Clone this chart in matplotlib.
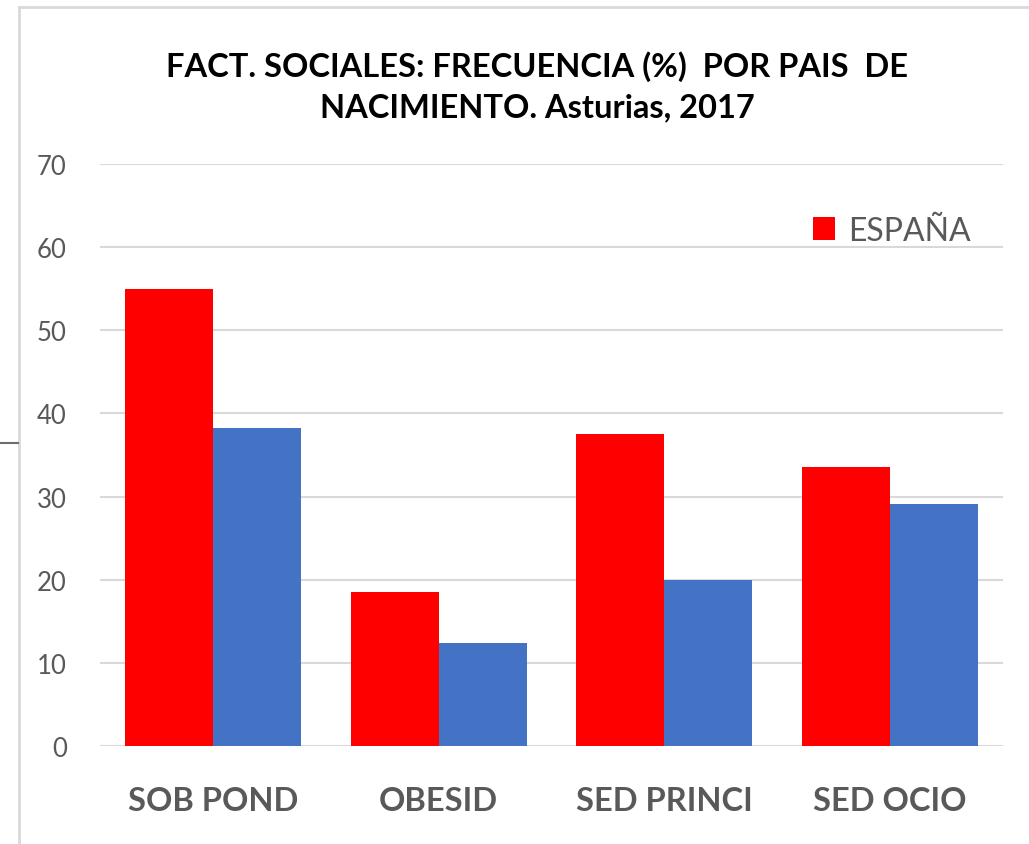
import matplotlib
matplotlib.use("Agg")
import matplotlib.pyplot as plt
import numpy as np
from matplotlib.lines import Line2D

# ── Data ──────────────────────────────────────────────────────────────────────

CATEGORIES = ["SOB POND", "OBESID", "SED PRINCI", "SED OCIO"]
ESPANA     = [55.0, 18.5, 37.5, 33.6]
EXTRANJ    = [38.3, 12.4, 20.0, 29.1]
Y_TICKS    = [0, 10, 20, 30, 40, 50, 60, 70]

TITLE = "FACT. SOCIALES: FRECUENCIA (%)  POR PAIS  DE\nNACIMIENTO. Asturias, 2017"

# ── Style ─────────────────────────────────────────────────────────────────────

RED   = "#ff0000"
BLUE  = "#4472c4"
GRID  = "#d9d9d9"
GRAY  = "#595959"
FONT  = ["Lato", "DejaVu Sans"]

plt.rcParams["font.family"] = FONT

fig = plt.figure(figsize=(10.29, 8.45), dpi=100)
ax = fig.add_axes([100 / 1029, 1 - 747 / 845, 903 / 1029, (747 - 165) / 845])

x = np.arange(len(CATEGORIES))
w = 0.39
ax.bar(x - w / 2, ESPANA, w, color=RED, label="ESPAÑA", zorder=3)
ax.bar(x + w / 2, EXTRANJ, w, color=BLUE, zorder=3)

ax.set_xlim(-0.5, len(CATEGORIES) - 0.5)
ax.set_ylim(0, 70)
ax.set_yticks(Y_TICKS)
ax.set_xticks(x)
ax.set_xticklabels(CATEGORIES, fontsize=23.5, fontweight="bold", color=GRAY)
ax.tick_params(axis="y", length=0, pad=24, labelsize=18.5, labelcolor=GRAY)
ax.tick_params(axis="x", length=0, pad=29)
ax.grid(axis="y", color=GRID, lw=1.5, zorder=0)
for s in ax.spines.values():
    s.set_visible(False)

leg = ax.legend(loc="upper right", bbox_to_anchor=(0.978, 0.933), frameon=False,
                fontsize=23, handlelength=0.7, handleheight=0.7,
                handletextpad=0.4, borderaxespad=0)
for t in leg.get_texts():
    t.set_color(GRAY)

fig.text(537 / 1029, 1 - 87 / 845, TITLE, ha="center", va="center",
         fontsize=23.5, fontweight="bold", color="black", linespacing=1.45)

# chart frame
fig.add_artist(Line2D([19 / 1029, 19 / 1029], [0, 1 - 8 / 845], color=GRID, lw=2))
fig.add_artist(Line2D([19 / 1029, 1], [1 - 8 / 845, 1 - 8 / 845], color=GRID, lw=2))
fig.add_artist(Line2D([0, 18 / 1029], [1 - 444 / 845, 1 - 444 / 845], color="#6e6e6e", lw=1.5))

fig.savefig("out.png", dpi=100, facecolor="white")
